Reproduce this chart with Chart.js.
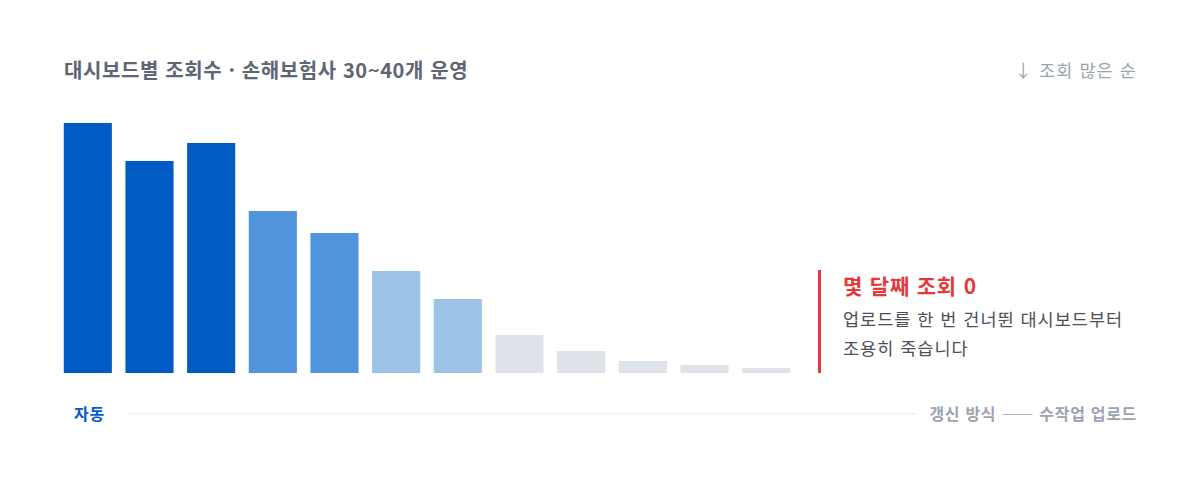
<!DOCTYPE html>
<html lang="ko">
<head>
<meta charset="utf-8">
<script src="https://cdn.jsdelivr.net/npm/chart.js@4"></script>
<style>
  html, body { margin: 0; padding: 0; background: #fff; }
  body { width: 1200px; height: 480px; position: relative; overflow: hidden;
         font-family: "Noto Sans CJK KR", "Noto Sans", sans-serif; }
  .title { position: absolute; left: 64px; top: 56px; line-height: 28px; font-size: 20px; font-weight: 700;
           letter-spacing: 0.6px; color: #5d6674; }
  .sort { position: absolute; right: 63px; top: 57px; line-height: 26px; font-size: 17.5px; letter-spacing: 1.1px; color: #9ba4b1; }
  #wrap { position: absolute; left: 57px; top: 123px; width: 740px; height: 250px; }
  .note { position: absolute; left: 818px; top: 270px; height: 103px; border-left: 3px solid #e5383b; padding-left: 22px; }
  .note h3 { margin: 0; font-size: 21px; font-weight: 700; color: #e5383b; line-height: 30px; letter-spacing: 0.8px; }
  .note p { margin: 4px 0 0; font-size: 17.5px; color: #4b5059; line-height: 29px; letter-spacing: 1px; }
  .auto { position: absolute; left: 74px; top: 400px; line-height: 26px; font-size: 16px; font-weight: 700; letter-spacing: 0.8px; color: #005bc4; }
  .rule { position: absolute; left: 127px; top: 413px; width: 790px; height: 1px; background: #e9ecf0; }
  .manual { position: absolute; right: 63px; top: 400px; line-height: 26px; font-size: 16px; font-weight: 700; letter-spacing: 0.7px; color: #9ba4b1; }
</style>
</head>
<body>
<div class="title">대시보드별 조회수 · 손해보험사 30~40개 운영</div>
<div class="sort">↓ 조회 많은 순</div>
<div id="wrap"><canvas id="chart"></canvas></div>
<div class="note">
  <h3>몇 달째 조회 0</h3>
  <p>업로드를 한 번 건너뛴 대시보드부터<br>조용히 죽습니다</p>
</div>
<div class="auto">자동</div>
<div class="rule"></div>
<div class="manual">갱신 방식 —— 수작업 업로드</div>

<script>
// dashboards sorted by views
const dashboards = ["D1", "D2", "D3", "D4", "D5", "D6", "D7", "D8", "D9", "D10", "D11", "D12"];
const views = [250, 212, 230, 162, 140, 102, 74, 38, 22, 12, 8, 5];
// refresh tier: 0 auto, 1 mixed, 2 partly manual, 3 manual upload
const tiers = [0, 0, 0, 1, 1, 2, 2, 3, 3, 3, 3, 3];

const tierColors = ["#005bc4", "#5094dc", "#9ec3e9", "#dee2e9"];

const ctx = document.getElementById("chart").getContext("2d");
const chart = new Chart(ctx, {
  type: "bar",
  data: {
    labels: dashboards,
    datasets: [
      {
        label: "조회수",
        data: views,
        backgroundColor: tiers.map((t) => tierColors[t]),
        borderWidth: 0,
        categoryPercentage: 1,
        barPercentage: 0.78,
      },
    ],
  },
  options: {
    responsive: true,
    maintainAspectRatio: false,
    animation: false,
    layout: { padding: 0 },
    plugins: {
      legend: { display: false },
      tooltip: { enabled: false },
    },
    scales: {
      x: { display: false },
      y: { display: false, min: 0, max: 250 },
    },
  },
});
</script>
</body>
</html>
